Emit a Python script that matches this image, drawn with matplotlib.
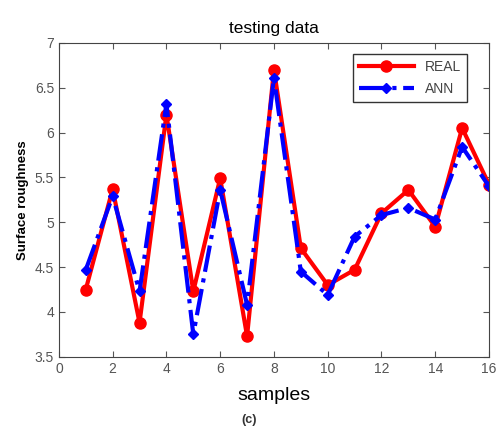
import matplotlib
matplotlib.use("Agg")
import matplotlib.pyplot as plt

samples = list(range(1, 17))
real = [4.25, 5.37, 3.88, 6.20, 4.23, 5.49, 3.73, 6.70, 4.71, 4.30, 4.47, 5.10, 5.36, 4.95, 6.05, 5.42]
ann = [4.47, 5.29, 4.23, 6.32, 3.75, 5.36, 4.08, 6.61, 4.45, 4.19, 4.84, 5.08, 5.16, 5.03, 5.84, 5.40]

plt.rcParams['font.family'] = ['Liberation Sans', 'DejaVu Sans']

fig = plt.figure(figsize=(4.99, 4.32), dpi=100)
ax = fig.add_axes([0.118, 0.174, 0.862, 0.727])

ax.plot(samples, real, '-o', color='red', lw=3, ms=8, label='REAL')
ax.plot(samples, ann, '-.D', color='blue', lw=3, ms=5, label='ANN')

ax.set_xlim(0, 16)
ax.set_ylim(3.5, 7)
ax.set_xticks(range(0, 17, 2))
ax.set_yticks([3.5, 4, 4.5, 5, 5.5, 6, 6.5, 7])
ax.set_yticklabels(['3.5', '4', '4.5', '5', '5.5', '6', '6.5', '7'])
ax.tick_params(direction='in', top=True, right=True, labelsize=10, colors='#555555', length=4)
for s in ax.spines.values():
    s.set_color('#444444')

ax.set_title('testing data', fontsize=12.5, pad=7)
ax.set_xlabel('samples', fontsize=14, labelpad=8)
ax.set_ylabel('Surface roughness', fontsize=9.5, fontweight='bold')
fig.text(0.5, 0.02, '(c)', ha='center', fontsize=9, fontweight='bold', color='#333333')

# legend box a bit lower/left like the reference
leg = ax.legend(loc='upper right', bbox_to_anchor=(0.965, 0.985), fontsize=10, fancybox=False,
                edgecolor='#333333', handlelength=4.0, borderaxespad=0.5, framealpha=1,
                labelspacing=0.6)
leg.get_frame().set_linewidth(1.0)
for t in leg.get_texts():
    t.set_color('#444444')

fig.savefig('out.png', dpi=100)
